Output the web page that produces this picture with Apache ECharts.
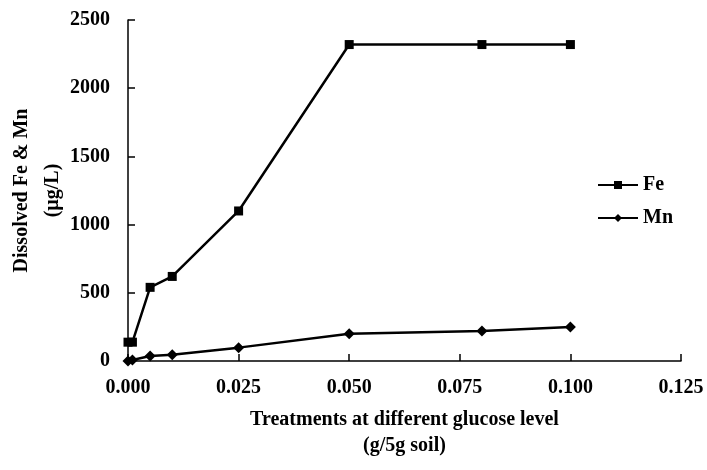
<!DOCTYPE html>
<html>
<head>
<meta charset="utf-8">
<script src="https://cdn.jsdelivr.net/npm/echarts@6/dist/echarts.min.js"></script>
<style>
  html, body { margin: 0; padding: 0; background: #fff; }
  #main { width: 707px; height: 470px; }
</style>
</head>
<body>
<div id="main"></div>
<script>
// glucose levels (g/5g soil)
var glucose = [0, 0.001, 0.005, 0.01, 0.025, 0.05, 0.08, 0.1];
// dissolved Fe and Mn (µg/L)
var feValues = [138, 138, 540, 620, 1100, 2320, 2320, 2320];
var mnValues = [0, 8, 36, 46, 98, 200, 220, 250];

var font = 'Liberation Serif';

function pairs(xs, ys) {
    return xs.map(function (x, i) { return [x, ys[i]]; });
}

var option = {
    backgroundColor: '#fff',
    animation: false,
    textStyle: { fontFamily: font },
    grid: { left: 128, right: 26, top: 20, bottom: 109, outerBoundsMode: 'none', containLabel: false },
    legend: {
        orient: 'vertical',
        left: 592,
        top: 170,
        itemWidth: 40,
        itemHeight: 10,
        itemGap: 13,
        textStyle: { fontFamily: font, fontWeight: 'bold', fontSize: 20, color: '#000' },
        data: ['Fe', 'Mn']
    },
    xAxis: {
        type: 'value',
        min: 0,
        max: 0.125,
        interval: 0.025,
        name: 'Treatments at different glucose level\n(g/5g soil)',
        nameLocation: 'middle',
        nameGap: 46,
        nameTextStyle: { fontFamily: font, fontWeight: 'bold', fontSize: 20, color: '#000', lineHeight: 26 },
        axisLine: { lineStyle: { color: '#000', width: 1.5 } },
        axisTick: { inside: true, length: 7, lineStyle: { color: '#000', width: 1.5 } },
        axisLabel: {
            margin: 17,
            fontFamily: font, fontWeight: 'bold', fontSize: 20, color: '#000',
            formatter: function (v) { return v.toFixed(3); }
        },
        splitLine: { show: false }
    },
    yAxis: {
        type: 'value',
        min: 0,
        max: 2500,
        interval: 500,
        name: 'Dissolved Fe & Mn\n(µg/L)',
        nameLocation: 'middle',
        nameRotate: 90,
        nameGap: 60,
        nameMoveOverlap: false,
        nameTextStyle: { fontFamily: font, fontWeight: 'bold', fontSize: 20, color: '#000', lineHeight: 31 },
        axisLine: { show: true, lineStyle: { color: '#000', width: 1.5 } },
        axisTick: { show: true, inside: true, length: 7, lineStyle: { color: '#000', width: 1.5 } },
        axisLabel: {
            margin: 18, fontFamily: font, fontWeight: 'bold', fontSize: 20, color: '#000',
            formatter: function (v) { return String(v); }
        },
        splitLine: { show: false }
    },
    series: [
        {
            name: 'Fe',
            type: 'line',
            data: pairs(glucose, feValues),
            symbol: 'rect',
            symbolSize: 9,
            itemStyle: { color: '#000' },
            lineStyle: { color: '#000', width: 2.5 }
        },
        {
            name: 'Mn',
            type: 'line',
            data: pairs(glucose, mnValues),
            symbol: 'diamond',
            symbolSize: 11,
            itemStyle: { color: '#000' },
            lineStyle: { color: '#000', width: 2.5 }
        }
    ]
};

var myChart = echarts.init(document.getElementById('main'));
myChart.setOption(option);
</script>
</body>
</html>
